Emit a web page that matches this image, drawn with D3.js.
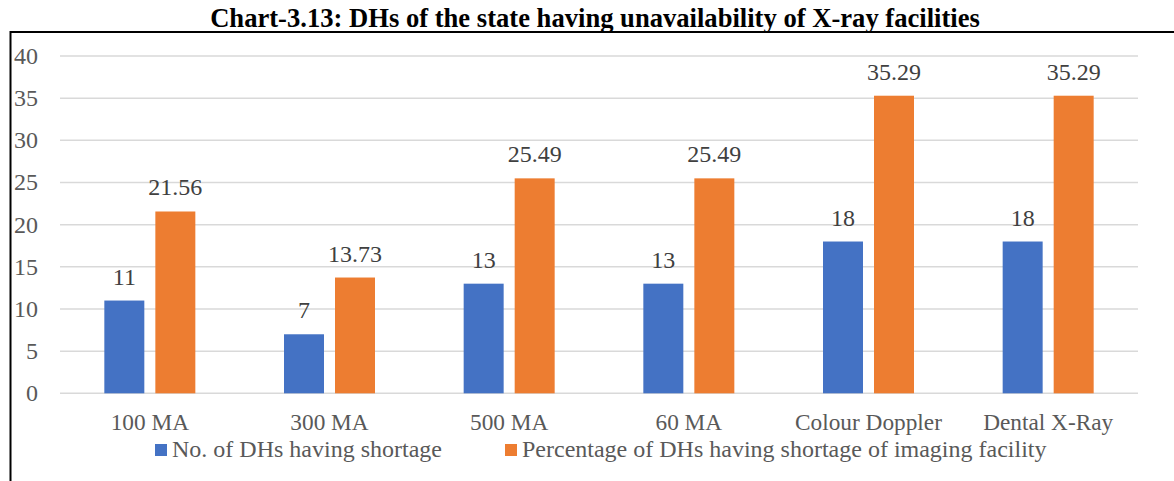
<!DOCTYPE html>
<html><head><meta charset="utf-8">
<script src="https://cdn.jsdelivr.net/npm/d3@7"></script>
<style>body{margin:0;background:#fff}svg{display:block}text{font-family:"Liberation Serif","Times New Roman",serif}</style>
</head><body>
<svg id="c" width="1174" height="481"></svg>
<script>
const categories = ["100 MA","300 MA","500 MA","60 MA","Colour Doppler","Dental X-Ray"];
const seriesNames = ["No. of DHs having shortage","Percentage of DHs having shortage of imaging facility"];
const countValues = [11,7,13,13,18,18];
const percentValues = [21.56,13.73,25.49,25.49,35.29,35.29];
const yTicks = [0,5,10,15,20,25,30,35,40];
const colors = ["#4472C4","#ED7D31"];
const title = "Chart-3.13: DHs of the state having unavailability of X-ray facilities";

const svg = d3.select("#c");
const plotL = 60, plotR = 1138, plotT = 56, plotB = 393.3;

// frame
svg.append("line").attr("x1",10.5).attr("x2",1174).attr("y1",32).attr("y2",32).attr("stroke","#000").attr("stroke-width",2);
svg.append("line").attr("x1",10.5).attr("x2",10.5).attr("y1",31).attr("y2",481).attr("stroke","#000").attr("stroke-width",2);

svg.append("text").attr("x",595).attr("y",27).attr("text-anchor","middle")
  .attr("font-size",26.6).attr("font-weight","bold").attr("fill","#000").text(title);

const y = d3.scaleLinear().domain([0,40]).range([plotB, plotT]);
const x0 = d3.scaleBand().domain(categories).range([plotL,plotR]).paddingInner(0.4935).paddingOuter(0.4935/2);
const x1 = d3.scaleBand().domain([0,1]).range([0,x0.bandwidth()]).paddingInner(0.216);

svg.append("g").selectAll("line").data(yTicks).join("line")
  .attr("x1",plotL).attr("x2",plotR).attr("y1",d=>y(d)).attr("y2",d=>y(d))
  .attr("stroke","#D9D9D9").attr("stroke-width",1.5);

svg.append("g").selectAll("text").data(yTicks).join("text")
  .attr("x",38).attr("y",d=>y(d)+8).attr("text-anchor","end")
  .attr("font-size",24).attr("fill","#595959").text(d=>d);

const rows = categories.map((c,i)=>({c, v:[countValues[i], percentValues[i]]}));
const g = svg.append("g").selectAll("g").data(rows).join("g").attr("transform",d=>`translate(${x0(d.c)},0)`);
g.selectAll("rect").data(d=>d.v.map((v,k)=>({v,k}))).join("rect")
  .attr("x",d=>x1(d.k)).attr("width",x1.bandwidth())
  .attr("y",d=>y(d.v)).attr("height",d=>y(0)-y(d.v)).attr("fill",d=>colors[d.k]);
g.selectAll("text").data(d=>d.v.map((v,k)=>({v,k}))).join("text")
  .attr("x",d=>x1(d.k)+x1.bandwidth()/2).attr("y",d=>y(d.v)-16).attr("text-anchor","middle")
  .attr("font-size",24).attr("fill","#404040").text(d=>d.v);

svg.append("g").selectAll("text").data(categories).join("text")
  .attr("x",d=>x0(d)+x0.bandwidth()/2).attr("y",430).attr("text-anchor","middle")
  .attr("font-size",23.3).attr("fill","#595959").text(d=>d);

const legX = [155, 505];
const lg = svg.append("g").selectAll("g").data(seriesNames).join("g").attr("transform",(d,i)=>`translate(${legX[i]},444)`);
lg.append("rect").attr("width",12).attr("height",12).attr("fill",(d,i)=>colors[i]);
lg.append("text").attr("x",17).attr("y",13).attr("font-size",24).attr("fill","#595959").text(d=>d);
</script>
</body></html>
